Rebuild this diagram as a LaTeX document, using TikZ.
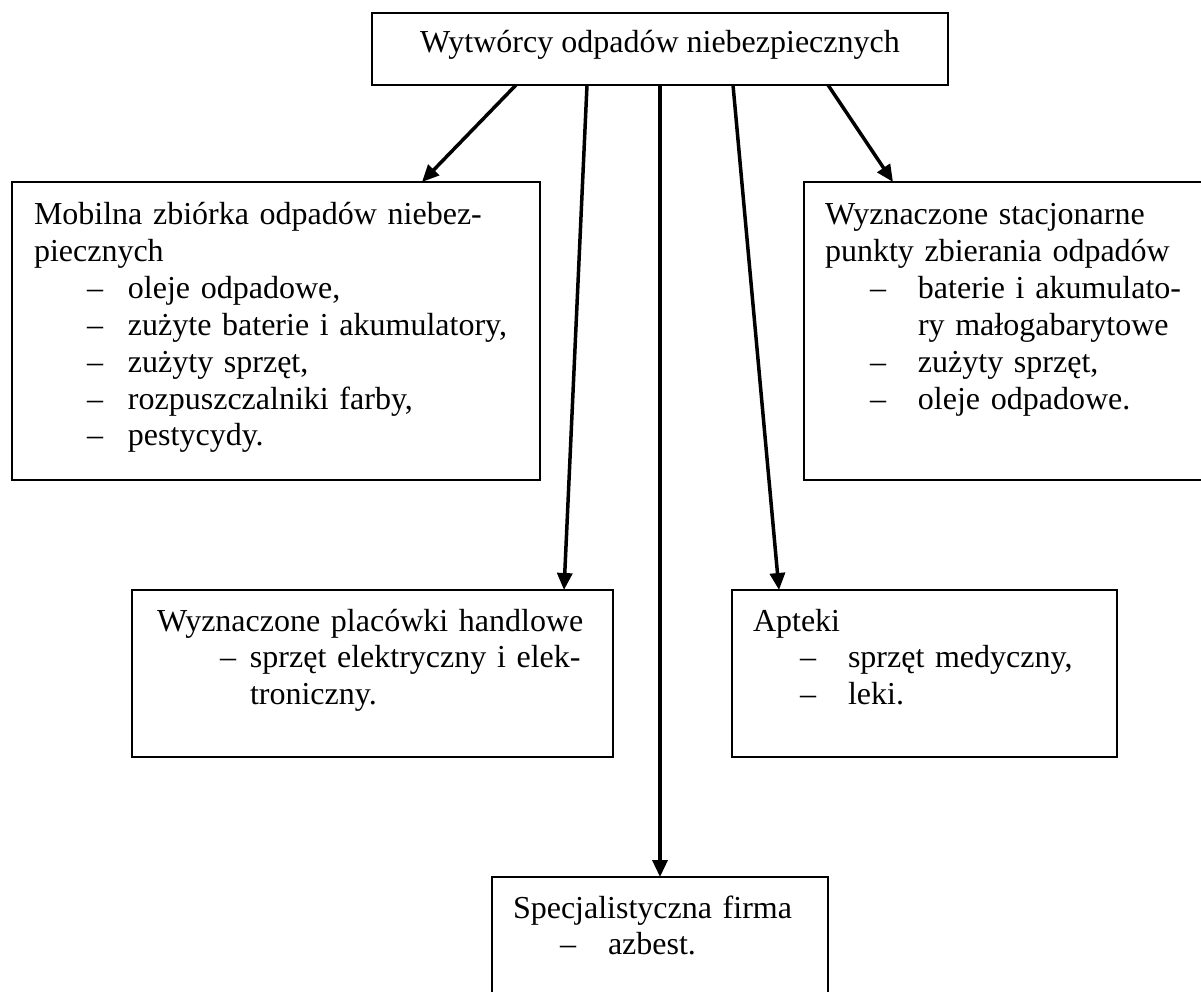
\documentclass[tikz,border=0pt]{standalone}
\usepackage{fontspec}
\setmainfont{Liberation Serif}
\usetikzlibrary{arrows.meta}
\newcommand\dashitem[2]{\hspace*{#1}\makebox[\dimexpr#2-#1\relax][l]{\textendash}}
\begin{document}
\begin{tikzpicture}[x=1pt,y=-1pt,
  box/.style={draw, line width=1.8pt, inner sep=0pt, outer sep=0pt, anchor=north west},
  txt/.style={anchor=base west, inner sep=0pt, outer sep=0pt, align=left, text width=#1, font=\fontsize{32}{36.8}\selectfont},
  arr/.style={line width=3.5pt, -{Triangle[length=17pt,width=15pt]}}
]
\useasboundingbox (0,0) rectangle (1201,992);
\clip (0,0) rectangle (1201,992);
% boxes
\node[box, minimum width=576pt, minimum height=72pt, font=\fontsize{32}{36.8}\selectfont,
      text height=26pt, text depth=18pt] (top) at (372,13) {Wytwórcy odpadów niebezpiecznych};
\node[box, minimum width=528pt, minimum height=298pt] (mob) at (12,182) {};
\node[box, minimum width=410pt, minimum height=298pt] (sta) at (804,182) {};
\node[box, minimum width=481pt, minimum height=167pt] (pla) at (132,590) {};
\node[box, minimum width=385pt, minimum height=167pt] (apt) at (732,590) {};
\node[box, minimum width=336pt, minimum height=140pt] (spe) at (492,877) {};
% texts
\node[txt=500pt] (mobt) at (34,225) {\makebox[484pt][s]{Mobilna zbiórka odpadów niebez-}\\
piecznych\\
\dashitem{53pt}{94pt}oleje odpadowe,\\
\dashitem{53pt}{94pt}zużyte baterie i akumulatory,\\
\dashitem{53pt}{94pt}zużyty sprzęt,\\
\dashitem{53pt}{94pt}rozpuszczalniki farby,\\
\dashitem{53pt}{94pt}pestycydy.};
\node[txt=370pt] (stat) at (825,225) {Wyznaczone stacjonarne\\
punkty zbierania odpadów\\
\dashitem{45pt}{93pt}baterie i akumulato-\\
\hspace*{93pt}ry małogabarytowe\\
\dashitem{45pt}{93pt}zużyty sprzęt,\\
\dashitem{45pt}{93pt}oleje odpadowe.};
\node[txt=460pt] (plat) at (157,631) {Wyznaczone placówki handlowe\\
\dashitem{63pt}{93pt}sprzęt elektryczny i elek-\\
\hspace*{93pt}troniczny.};
\node[txt=360pt] (aptt) at (753,631) {Apteki\\
\dashitem{47pt}{95pt}sprzęt medyczny,\\
\dashitem{47pt}{95pt}leki.};
\node[txt=310pt] (spet) at (513,918) {Specjalistyczna firma\\
\dashitem{47pt}{95pt}azbest.};
% connectors
\draw[arr] ([xshift=144pt]top.south west) -- ([xshift=410pt]mob.north west);
\draw[arr] ([xshift=215pt]top.south west) -- ([xshift=432pt]pla.north west);
\draw[arr] (top.south) -- (spe.north);
\draw[arr] ([xshift=361pt]top.south west) -- ([xshift=47pt]apt.north west);
\draw[arr] ([xshift=456pt]top.south west) -- ([xshift=89pt]sta.north west);
\end{tikzpicture}
\end{document}
